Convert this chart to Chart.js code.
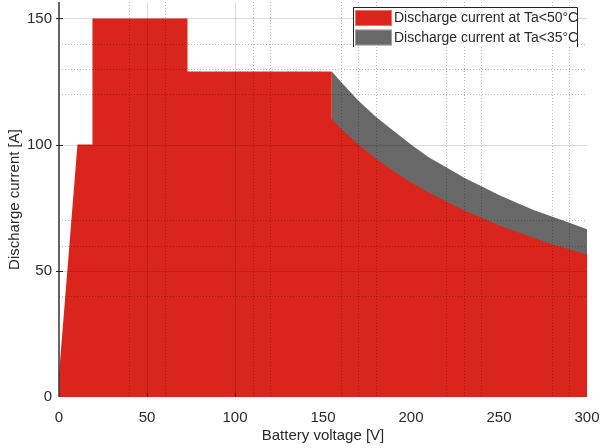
<!DOCTYPE html>
<html>
<head>
<meta charset="utf-8">
<script src="https://cdn.jsdelivr.net/npm/chart.js@4/dist/chart.umd.min.js"></script>
<style>
  html, body { margin: 0; padding: 0; background: #fff; }
  #wrap { width: 602px; height: 448px; }
</style>
</head>
<body>
<div id="wrap"><canvas id="chart" width="602" height="448"></canvas></div>
<script>
// step part of the Ta<50 limit (voltage, current)
const stepVolts   = [0, 0, 10.5, 19, 19, 73, 73, 155];
const stepCurrent = [0, 9, 100, 100, 150, 150, 129, 129];

// constant power part
const curveVolts  = [155, 160, 170, 180, 190, 200, 210, 220, 230, 240, 250, 260, 270, 280, 290, 300];
const current50   = [110, 106.5, 100, 94.5, 89.5, 85, 81, 77.5, 74, 71, 68, 65.5, 63, 60.5, 58.5, 56.5];
const current35   = [129, 125, 117.5, 111, 105.5, 100, 95, 91, 87, 83.5, 80, 77, 74, 71.5, 69, 66.5];

const xTicks = [0, 50, 100, 150, 200, 250, 300];
const yTicks = [0, 50, 100, 150];

const xGridSolid  = [50, 100];
const xGridDotted = [40, 60, 110, 120, 160, 170, 180, 220, 230, 240, 280, 290];
const yGridSolid  = [50, 100, 150];
const yGridDotted = [40, 60, 70, 120, 130, 140];

const labels = ["Discharge current at Ta<50°C", "Discharge current at Ta<35°C"];
const colors = ["#da251d", "#686868"];

const FONT = "'Liberation Sans', Arial, sans-serif";
const TEXT = "#2a2a2a";

const red = stepVolts.map((v, i) => ({ x: v, y: stepCurrent[i] }))
  .concat(curveVolts.map((v, i) => ({ x: v, y: current50[i] })));
const grey = curveVolts.map((v, i) => ({ x: v, y: current35[i] }));

const overlay = {
  id: "overlay",
  afterDatasetsDraw(chart) {
    const { ctx, chartArea: a, scales: { x, y } } = chart;
    ctx.save();
    ctx.lineWidth = 1;

    function vline(v, dash, color) {
      const px = Math.round(x.getPixelForValue(v)) + 0.5;
      ctx.setLineDash(dash);
      ctx.strokeStyle = color;
      ctx.beginPath();
      ctx.moveTo(px, a.top);
      ctx.lineTo(px, a.bottom);
      ctx.stroke();
    }
    function hline(v, dash, color) {
      const py = Math.round(y.getPixelForValue(v)) + 0.5;
      ctx.setLineDash(dash);
      ctx.strokeStyle = color;
      ctx.beginPath();
      ctx.moveTo(a.left, py);
      ctx.lineTo(a.right, py);
      ctx.stroke();
    }
    xGridDotted.forEach(v => vline(v, [1, 2], "rgba(0,0,0,0.28)"));
    yGridDotted.forEach(v => hline(v, [1, 2], "rgba(0,0,0,0.28)"));
    xGridSolid.forEach(v => vline(v, [], "rgba(0,0,0,0.14)"));
    yGridSolid.forEach(v => hline(v, [], "rgba(0,0,0,0.14)"));

    // left axis line and small tick marks
    ctx.setLineDash([]);
    ctx.strokeStyle = "#333";
    ctx.lineWidth = 1.5;
    ctx.beginPath();
    ctx.moveTo(a.left, a.top);
    ctx.lineTo(a.left, a.bottom);
    ctx.stroke();
    ctx.lineWidth = 1;
    ctx.strokeStyle = "#222";
    [50, 100].forEach(v => {
      const px = Math.round(x.getPixelForValue(v)) + 0.5;
      ctx.beginPath();
      ctx.moveTo(px, a.bottom);
      ctx.lineTo(px, a.bottom - 4);
      ctx.stroke();
    });
    [50, 100, 150].forEach(v => {
      const py = Math.round(y.getPixelForValue(v)) + 0.5;
      ctx.beginPath();
      ctx.moveTo(a.left - 3, py);
      ctx.lineTo(a.left + 4, py);
      ctx.stroke();
    });
    ctx.restore();
  },
  afterDraw(chart) {
    // legend box in the upper right corner
    const { ctx } = chart;
    const bx = 353, by = 7, bw = 224, bh = 40;
    ctx.save();
    ctx.fillStyle = "#fff";
    ctx.fillRect(bx, by, bw, bh);
    ctx.strokeStyle = "#222";
    ctx.lineWidth = 1;
    ctx.beginPath();
    ctx.moveTo(bx + 0.5, by + bh);
    ctx.lineTo(bx + 0.5, by + 0.5);
    ctx.lineTo(bx + bw + 0.5, by + 0.5);
    ctx.lineTo(bx + bw + 0.5, by + bh);
    ctx.stroke();
    ctx.font = "14px " + FONT;
    ctx.textBaseline = "middle";
    chart.data.datasets.forEach((ds, i) => {
      const ry = by + 3 + i * 19.5;
      ctx.fillStyle = ds.backgroundColor;
      ctx.fillRect(bx + 2, ry, 37, 16);
      ctx.strokeStyle = "rgba(255,255,255,0.35)";
      ctx.strokeRect(bx + 2.5, ry + 0.5, 36, 15);
      ctx.fillStyle = TEXT;
      ctx.fillText(ds.label, bx + 41, ry + 8.5);
    });
    ctx.restore();
  }
};

new Chart(document.getElementById("chart"), {
  type: "line",
  data: {
    datasets: [
      { label: labels[0], data: red, backgroundColor: colors[0], borderWidth: 0, pointRadius: 0, fill: "origin", tension: 0 },
      { label: labels[1], data: grey, backgroundColor: colors[1], borderWidth: 0, pointRadius: 0, fill: "origin", tension: 0 }
    ]
  },
  options: {
    responsive: false,
    animation: false,
    devicePixelRatio: 1,
    layout: { padding: { top: 2, right: 15, left: 0, bottom: 0 } },
    plugins: { legend: { display: false }, tooltip: { enabled: false } },
    scales: {
      x: {
        type: "linear",
        min: 0,
        max: 300,
        afterBuildTicks: s => { s.ticks = xTicks.map(v => ({ value: v })); },
        afterFit: s => { s.height = 51; s.paddingLeft = 0; s.paddingRight = 0; },
        grid: { display: false, drawTicks: false },
        border: { display: false },
        ticks: { padding: 12, color: TEXT, font: { family: FONT, size: 15 }, maxRotation: 0 },
        title: { display: true, text: "Battery voltage [V]", color: TEXT, font: { family: FONT, size: 15 }, padding: { top: 0, bottom: 3 } }
      },
      y: {
        min: 0,
        max: 156.5,
        afterBuildTicks: s => { s.ticks = yTicks.map(v => ({ value: v })); },
        afterFit: s => { s.width = 59; s.paddingTop = 0; s.paddingBottom = 0; },
        grid: { display: false, drawTicks: false },
        border: { display: false },
        ticks: { padding: 7, color: TEXT, font: { family: FONT, size: 15 } },
        title: { display: true, text: "Discharge current [A]", color: TEXT, font: { family: FONT, size: 15 }, padding: { top: 6, bottom: 0 } }
      }
    }
  },
  plugins: [overlay]
});
</script>
</body>
</html>
